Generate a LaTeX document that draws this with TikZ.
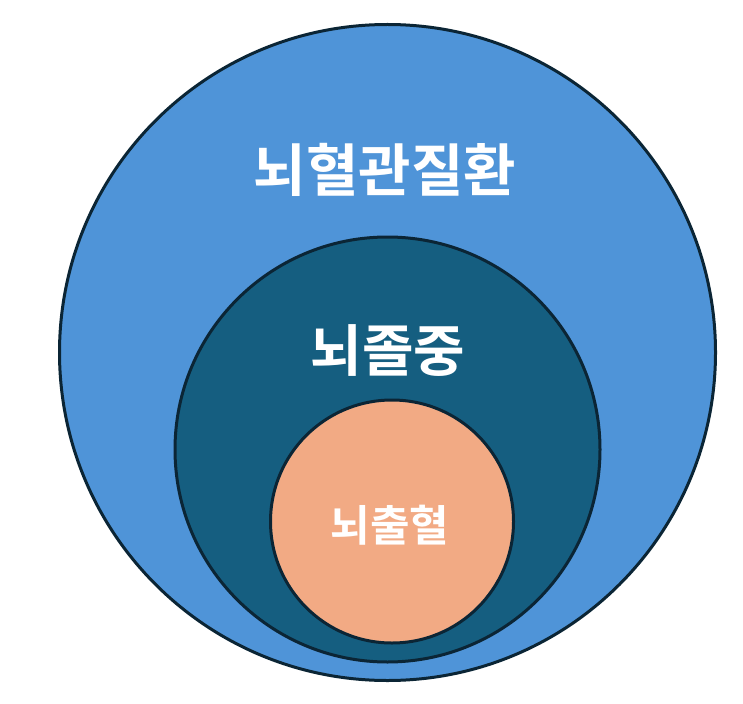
\documentclass[tikz,border=0pt]{standalone}
\usepackage{fontspec}
\newfontfamily\kr{Noto Sans CJK KR}[BoldFont={* Bold}]
\definecolor{outerblue}{HTML}{4F94D8}
\definecolor{midblue}{HTML}{155E80}
\definecolor{innersalmon}{HTML}{F2AA84}
\definecolor{rim}{HTML}{0B2535}
\begin{document}
\begin{tikzpicture}[x=1pt,y=-1pt,
  ring/.style={draw=rim,line width=3pt},
  lbl/.style={text=white,font=\kr\bfseries,inner sep=0pt}]
\useasboundingbox (0,0) rectangle (743,703);
\fill[white] (0,0) rectangle (743,703);
\draw[ring,fill=outerblue] (387.5,352.5) circle[radius=328];
\draw[ring,fill=midblue] (387.5,449.5) circle[radius=212.5];
\draw[ring,fill=innersalmon] (392,521.5) circle[radius=121.5];
\node[lbl,font=\kr\bfseries\fontsize{57}{63}\selectfont] (t1) at (385,170) {뇌혈관질환};
\node[lbl,font=\kr\bfseries\fontsize{56}{62}\selectfont] (t2) at (388,351) {뇌졸중};
\node[lbl,font=\kr\bfseries\fontsize{43}{49}\selectfont] (t3) at (390,525) {뇌출혈};
\end{tikzpicture}
\end{document}
